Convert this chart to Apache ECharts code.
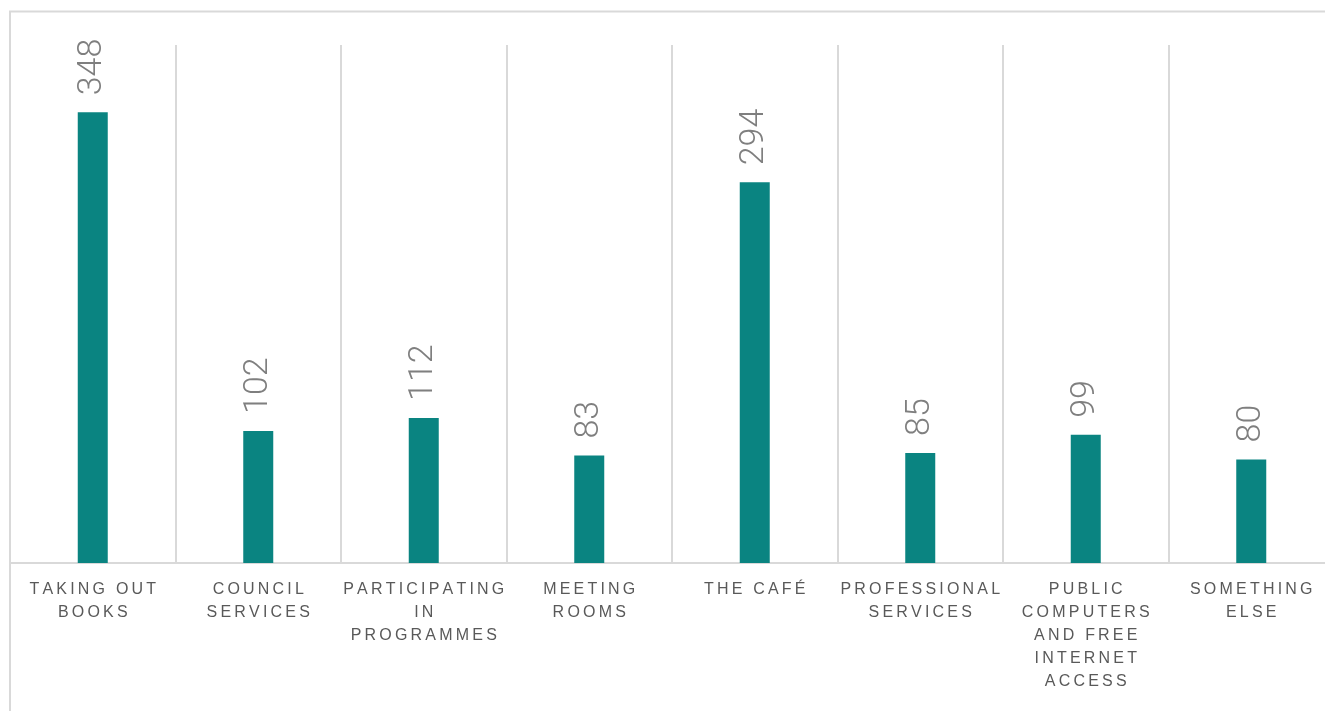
<!DOCTYPE html>
<html>
<head>
<meta charset="utf-8">
<script src="https://cdn.jsdelivr.net/npm/echarts@6/dist/echarts.min.js"></script>
<style>
    html, body { margin: 0; padding: 0; background: #ffffff; }
    #chart { width: 1325px; height: 711px; }
</style>
</head>
<body>
<div id="chart"></div>
<script>
var categories = [
    "TAKING OUT\nBOOKS",
    "COUNCIL\nSERVICES",
    "PARTICIPATING\nIN\nPROGRAMMES",
    "MEETING\nROOMS",
    "THE CAFÉ",
    "PROFESSIONAL\nSERVICES",
    "PUBLIC\nCOMPUTERS\nAND FREE\nINTERNET\nACCESS",
    "SOMETHING\nELSE"
];
var counts = [348, 102, 112, 83, 294, 85, 99, 80];

// spread the letters a little, like the letter-spaced labels in the original
function spaced(text) {
    return text.split("\n").map(function (line) {
        return line.split("").join("\u2009");
    }).join("\n");
}

var chart = echarts.init(document.getElementById("chart"));
var option = {
    animation: false,
    graphic: [{
        type: "rect",
        shape: { x: 10, y: 11.5, width: 1400, height: 800 },
        style: { fill: "none", stroke: "#d9d9d9", lineWidth: 2 },
        silent: true
    }],
    grid: {
        left: 10,
        width: 1324,
        top: 45,
        bottom: 148,
        outerBoundsMode: "none",
        containLabel: false
    },
    xAxis: {
        type: "category",
        data: categories,
        axisLine: { lineStyle: { color: "#d9d9d9", width: 2 } },
        axisTick: { show: false },
        splitLine: { show: true, interval: 0, lineStyle: { color: "#d9d9d9", width: 2 } },
        axisLabel: {
            interval: 0,
            margin: 15,
            color: "#595959",
            fontFamily: "Liberation Sans",
            fontSize: 16,
            lineHeight: 23,
            formatter: function (v) { return spaced(v); }
        }
    },
    yAxis: {
        type: "value",
        min: 0,
        max: 400,
        show: false,
        splitLine: { show: false }
    },
    series: [{
        type: "bar",
        data: counts,
        barWidth: 30,
        itemStyle: { color: "#0a8481" },
        label: {
            show: true,
            position: "top",
            rotate: 90,
            align: "left",
            verticalAlign: "middle",
            distance: 17,
            color: "#7f7f7f",
            fontFamily: "Roboto",
            fontWeight: 300,
            fontSize: 34
        }
    }]
};
chart.setOption(option);
</script>
</body>
</html>
